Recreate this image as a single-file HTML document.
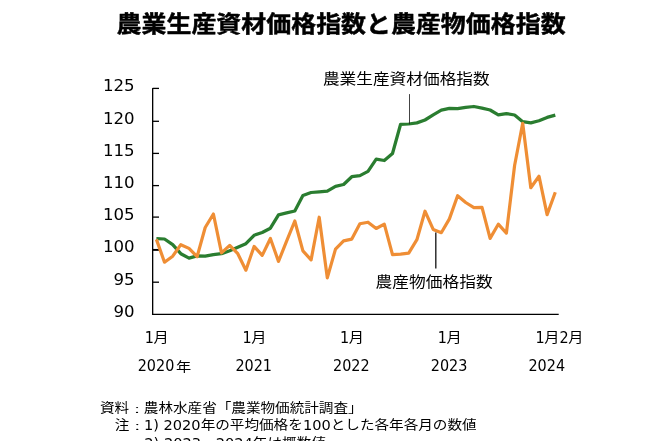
<!DOCTYPE html>
<html lang="ja">
<head>
<meta charset="utf-8">
<title>農業生産資材価格指数と農産物価格指数</title>
<style>
html,body{margin:0;padding:0;background:#fff;}
body{width:668px;height:441px;overflow:hidden;}
svg{display:block;}
text{fill:#000;white-space:pre;}
.l{font-family:"DejaVu Sans","Liberation Sans",sans-serif;}
.k{font-family:"Liberation Sans","Noto Sans CJK JP",sans-serif;}
.kb{font-family:"Liberation Sans","Noto Sans CJK JP",sans-serif;font-weight:700;stroke:#000;stroke-width:0.5px;stroke-linejoin:round;}
</style>
</head>
<body>
<svg width="668" height="441" viewBox="0 0 668 441">
<rect width="668" height="441" fill="#fff"/>
<text class="kb" transform="translate(116.60,32.40) scale(1,0.915)" font-size="24.95">農業生産資材価格指数と農産物価格指数</text>
<g stroke="#000" stroke-width="1.2" fill="none">
<path d="M152.65,88.10 V314.35" stroke-width="1.35"/>
<path d="M151.98,314.35 H558.7" stroke-width="1.3"/>
<path d="M152.65,88.4 H159.0" stroke-width="1.3"/>
<path d="M152.65,121.3 H159.0" stroke-width="1.3"/>
<path d="M152.65,153.4 H159.0" stroke-width="1.3"/>
<path d="M152.65,185.6 H159.0" stroke-width="1.3"/>
<path d="M152.65,217.1 H159.0" stroke-width="1.3"/>
<path d="M152.65,249.9 H159.0" stroke-width="1.9"/>
<path d="M152.65,282.2 H159.0" stroke-width="1.3"/>
</g>
<text class="l" x="134.60" y="91.10" font-size="16.6" text-anchor="end">125</text>
<text class="l" x="134.60" y="123.80" font-size="16.6" text-anchor="end">120</text>
<text class="l" x="134.60" y="155.90" font-size="16.6" text-anchor="end">115</text>
<text class="l" x="134.60" y="187.90" font-size="16.6" text-anchor="end">110</text>
<text class="l" x="134.60" y="220.20" font-size="16.6" text-anchor="end">105</text>
<text class="l" x="134.60" y="252.00" font-size="16.6" text-anchor="end">100</text>
<text class="l" x="134.60" y="285.20" font-size="16.6" text-anchor="end">95</text>
<text class="l" x="134.60" y="316.90" font-size="16.6" text-anchor="end">90</text>
<path d="M156.4,238.7 L164.5,239.0 L172.7,244.7 L180.8,253.7 L189.0,258.1 L197.1,255.9 L205.2,256.2 L213.4,254.7 L221.5,253.7 L229.7,250.7 L237.8,247.2 L245.9,243.7 L254.1,235.3 L262.2,232.5 L270.4,228.2 L278.5,214.8 L286.6,212.9 L294.8,211.0 L302.9,195.5 L311.1,192.5 L319.2,191.9 L327.3,191.2 L335.5,186.3 L343.6,184.5 L351.8,176.7 L359.9,175.6 L368.0,171.4 L376.2,159.2 L384.3,160.5 L392.5,153.5 L400.6,124.3 L408.7,124.0 L416.9,122.9 L425.0,120.0 L433.2,114.9 L441.3,110.2 L449.4,108.4 L457.6,108.7 L465.7,107.3 L473.9,106.5 L482.0,108.1 L490.1,110.0 L498.3,114.9 L506.4,113.6 L514.6,115.0 L522.7,121.7 L530.8,122.9 L539.0,120.7 L547.1,117.4 L555.3,115.1" fill="none" stroke="#2A7D30" stroke-width="3.25" stroke-linejoin="round"/>
<path d="M156.4,239.4 L164.5,262.2 L172.7,256.2 L180.8,244.7 L189.0,248.4 L197.1,256.7 L205.2,227.5 L213.4,214.0 L221.5,252.9 L229.7,245.4 L237.8,253.7 L245.9,270.2 L254.1,246.4 L262.2,255.4 L270.4,238.5 L278.5,261.4 L286.6,241.2 L294.8,221.0 L302.9,250.9 L311.1,259.9 L319.2,217.2 L327.3,277.9 L335.5,249.1 L343.6,240.9 L351.8,239.1 L359.9,223.7 L368.0,222.2 L376.2,228.5 L384.3,224.2 L392.5,254.7 L400.6,254.1 L408.7,253.2 L416.9,239.7 L425.0,211.2 L433.2,229.4 L441.3,232.7 L449.4,218.9 L457.6,195.7 L465.7,202.5 L473.9,207.7 L482.0,207.4 L490.1,238.4 L498.3,224.2 L506.4,233.1 L514.6,165.5 L522.7,123.3 L530.8,187.7 L539.0,176.2 L547.1,214.6 L555.3,192.2" fill="none" stroke="#EF8E35" stroke-width="3.2" stroke-linejoin="round"/>
<path d="M409.5,94.1 V124.3" stroke="#222" stroke-width="0.85" fill="none"/>
<path d="M435.8,232.5 V268.5" stroke="#222" stroke-width="1.4" fill="none"/>
<text class="k" transform="translate(322.90,83.50) scale(1,0.885)" font-size="16.7">農業生産資材価格指数</text>
<text class="k" transform="translate(375.50,287.00) scale(1,0.875)" font-size="16.75">農産物価格指数</text>
<text class="l" transform="translate(144.70,343.10) scale(1,1.045)" font-size="14.4">1</text>
<text class="k" transform="translate(153.46,342.10) scale(1,0.88)" font-size="15.2">月</text>
<text class="l" transform="translate(242.38,343.10) scale(1,1.045)" font-size="14.4">1</text>
<text class="k" transform="translate(251.14,342.10) scale(1,0.88)" font-size="15.2">月</text>
<text class="l" transform="translate(340.06,343.10) scale(1,1.045)" font-size="14.4">1</text>
<text class="k" transform="translate(348.82,342.10) scale(1,0.88)" font-size="15.2">月</text>
<text class="l" transform="translate(437.74,343.10) scale(1,1.045)" font-size="14.4">1</text>
<text class="k" transform="translate(446.50,342.10) scale(1,0.88)" font-size="15.2">月</text>
<text class="l" transform="translate(535.42,343.10) scale(1,1.045)" font-size="14.4">1</text>
<text class="k" transform="translate(544.18,342.10) scale(1,0.88)" font-size="15.2">月</text>
<text class="l" transform="translate(559.38,343.10) scale(1,1.045)" font-size="14.4">2</text>
<text class="k" transform="translate(568.14,342.10) scale(1,0.88)" font-size="15.2">月</text>
<text class="l" transform="translate(137.70,371.00) scale(1,1.045)" font-size="14.4">2020</text>
<text class="k" transform="translate(175.95,371.00) scale(1,0.855)" font-size="15.2">年</text>
<text class="l" transform="translate(235.38,371.00) scale(1,1.045)" font-size="14.4">2021</text>
<text class="l" transform="translate(333.06,371.00) scale(1,1.045)" font-size="14.4">2022</text>
<text class="l" transform="translate(430.74,371.00) scale(1,1.045)" font-size="14.4">2023</text>
<text class="l" transform="translate(528.42,371.00) scale(1,1.045)" font-size="14.4">2024</text>
<text class="k" transform="translate(100.00,411.70) scale(1,0.87)" font-size="14.6">資料</text>
<text class="k" transform="translate(129.80,412.55) scale(1,0.55)" font-size="14.6">：</text>
<text class="k" transform="translate(143.80,411.70) scale(1,0.87)" font-size="14.6">農林水産省「農業物価統計調査」</text>
<text class="k" transform="translate(114.70,429.20) scale(1,0.87)" font-size="14.6">注</text>
<text class="k" transform="translate(129.90,430.05) scale(1,0.55)" font-size="14.6">：</text>
<text class="l" transform="translate(143.90,430.00) scale(1,0.98)" font-size="14.6">1) 2020</text>
<text class="k" transform="translate(200.68,429.20) scale(1,0.87)" font-size="14.6">年の平均価格を</text>
<text class="l" transform="translate(302.88,430.00) scale(1,0.98)" font-size="14.6">100</text>
<text class="k" transform="translate(330.75,429.20) scale(1,0.87)" font-size="14.6">とした各年各月の数値</text>
<text class="l" transform="translate(144.30,447.70) scale(1,0.98)" font-size="14.6">2) 2023</text>
<text class="k" transform="translate(201.08,446.90) scale(1,0.87)" font-size="14.6">、</text>
<text class="l" transform="translate(215.68,447.70) scale(1,0.98)" font-size="14.6">2024</text>
<text class="k" transform="translate(252.84,446.90) scale(1,0.87)" font-size="14.6">年は概数値</text>
</svg>
</body>
</html>
